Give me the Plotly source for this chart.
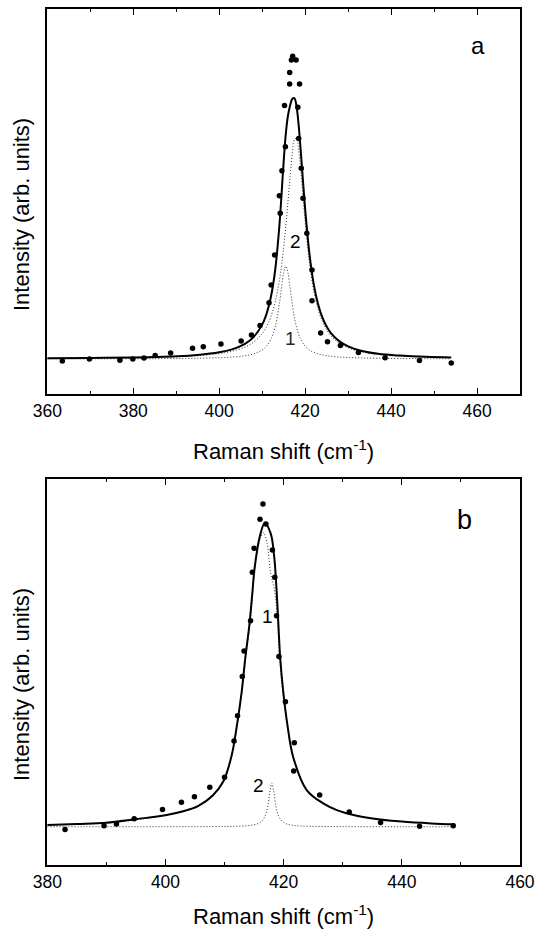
import plotly.graph_objects as go

# ---------------- Panel a ----------------
a_fit_x = [360, 370, 380, 385, 390, 395, 400, 403, 406, 408, 410, 411, 412, 413, 414, 415, 415.5, 416,
           416.5, 417, 417.5, 418, 418.5, 419, 420, 421, 422, 423, 424, 425, 426, 428, 430, 433, 437,
           442, 448, 454]
a_fit_total = [0.0024, 0.0035, 0.0056, 0.0075, 0.0104, 0.0156, 0.0256, 0.0371, 0.0583, 0.0845, 0.133,
               0.174, 0.238, 0.341, 0.515, 0.764, 0.873, 0.943, 0.983, 1.008, 1.011, 0.979, 0.905,
               0.802, 0.582, 0.408, 0.290, 0.213, 0.161, 0.126, 0.100, 0.068, 0.049, 0.032, 0.020,
               0.013, 0.008, 0.006]
a_fit_1 = [0.0004, 0.0006, 0.0009, 0.0013, 0.0018, 0.0028, 0.0048, 0.0073, 0.0125, 0.0196, 0.0348,
           0.0497, 0.0753, 0.1229, 0.2125, 0.334, 0.36, 0.334, 0.275, 0.2125, 0.161, 0.1229, 0.0952,
           0.0753, 0.0497, 0.0348, 0.0256, 0.0196, 0.0155, 0.0125, 0.0103, 0.0073, 0.0055, 0.0038,
           0.0025, 0.0017, 0.0011, 0.0008]
a_fit_2 = [0.0020, 0.0029, 0.0047, 0.0062, 0.0086, 0.0128, 0.0208, 0.0298, 0.0458, 0.0649, 0.0982,
           0.1246, 0.1626, 0.2183, 0.3026, 0.43, 0.5134, 0.6086, 0.7075, 0.795, 0.850, 0.8556, 0.8094,
           0.7265, 0.5318, 0.3729, 0.2646, 0.1933, 0.1457, 0.1130, 0.0898, 0.0603, 0.0430, 0.0282,
           0.0179, 0.0114, 0.0073, 0.0051]
a_data_x = [363.5, 369.8, 376.9, 379.9, 382.5, 385.1, 388.7, 393.8, 396.3, 400.4, 405.1, 407.5, 409.5,
            411.6, 412.1, 412.9, 414.2, 414.0, 414.6, 415.4, 415.2, 416.4, 416.4, 416.8, 417.1, 417.9,
            418.7, 418.3, 418.5, 419.1, 419.5, 420.4, 421.6, 421.6, 423.6, 425.2, 428.2, 432.4, 438.6,
            446.6, 454.0]
a_data_y = [-0.008, 0.0, -0.005, 0.0, 0.004, 0.013, 0.023, 0.041, 0.047, 0.058, 0.070, 0.093, 0.130,
            0.218, 0.287, 0.403, 0.565, 0.633, 0.730, 0.823, 0.983, 1.066, 1.111, 1.159, 1.174, 1.159,
            1.066, 0.976, 0.855, 0.739, 0.623, 0.487, 0.345, 0.226, 0.101, 0.067, 0.052, 0.025, 0.005,
            -0.006, -0.016]

# ---------------- Panel b ----------------
b_fit_x = [380, 385, 390, 395, 400, 403, 405.5, 408, 409.8, 411.2, 412.1, 412.9, 413.5, 414.2, 414.7,
           415.1, 416.0, 416.8, 417.8, 418.4, 418.8, 419.1, 419.4, 419.9, 420.6, 421.6, 423.9, 426.7,
           429, 432, 436, 440, 445, 449]
b_fit_total = [0.006, 0.009, 0.013, 0.025, 0.038, 0.051, 0.068, 0.103, 0.150, 0.235, 0.335, 0.445,
               0.555, 0.665, 0.770, 0.855, 0.960, 1.0, 0.967, 0.890, 0.780, 0.671, 0.561, 0.451,
               0.341, 0.231, 0.121, 0.077, 0.055, 0.038, 0.025, 0.017, 0.011, 0.008]
b_c1_x = [380, 390, 400, 405.5, 408, 409.8, 411.2, 412.1, 412.9, 413.5, 414.2, 414.7, 415.1, 416.0,
          416.6, 417.2, 417.8, 418.4, 418.8, 419.1, 419.4, 419.9, 420.6, 421.6, 423.9, 426.7, 432, 440,
          449]
b_c1_y = [0.006, 0.013, 0.038, 0.067, 0.101, 0.147, 0.231, 0.330, 0.438, 0.545, 0.650, 0.752, 0.848,
          0.946, 0.969, 0.933, 0.836, 0.786, 0.723, 0.634, 0.535, 0.436, 0.333, 0.227, 0.119, 0.076,
          0.038, 0.017, 0.008]
b_c2_x = [380, 400, 410, 413, 415, 416, 416.8, 417.3, 417.7, 418.0, 418.3, 418.7, 419.2, 420, 421, 423,
          430, 440, 449]
b_c2_y = [0.0, 0.0003, 0.0009, 0.0024, 0.0065, 0.0138, 0.033, 0.067, 0.119, 0.144, 0.119, 0.067, 0.033,
          0.0138, 0.0065, 0.0024, 0.0005, 0.0001, 0.0]
b_data_x = [383.0, 389.6, 391.7, 394.7, 399.5, 402.7, 404.9, 407.5, 410.0, 411.6, 412.2, 413.0, 413.3,
            414.4, 414.7, 415.0, 416.0, 416.5, 417.0, 418.1, 418.5, 418.8, 419.2, 420.3, 421.8, 421.7,
            426.1, 431.1, 436.4, 443.0, 448.7]
b_data_y = [-0.009, 0.003, 0.009, 0.026, 0.057, 0.081, 0.099, 0.130, 0.163, 0.283, 0.366, 0.495, 0.579,
            0.679, 0.839, 0.918, 1.013, 1.064, 0.998, 0.912, 0.822, 0.695, 0.561, 0.412, 0.277, 0.184,
            0.105, 0.049, 0.014, 0.002, 0.003]

FONT = "Liberation Sans, Arial, sans-serif"
dotted = dict(color="#303030", width=1, dash="1px,2px")
solid = dict(color="black", width=2)
marker = dict(color="black", size=5.5)

fig = go.Figure()
# panel a
fig.add_trace(go.Scatter(x=a_fit_x, y=a_fit_1, mode="lines", line=dotted, line_shape="spline",
                         xaxis="x", yaxis="y"))
fig.add_trace(go.Scatter(x=a_fit_x, y=a_fit_2, mode="lines", line=dotted, line_shape="spline",
                         xaxis="x", yaxis="y"))
fig.add_trace(go.Scatter(x=a_fit_x, y=a_fit_total, mode="lines", line=solid, line_shape="spline",
                         xaxis="x", yaxis="y"))
fig.add_trace(go.Scatter(x=a_data_x, y=a_data_y, mode="markers", marker=marker, xaxis="x", yaxis="y"))
# panel b
fig.add_trace(go.Scatter(x=b_c2_x, y=b_c2_y, mode="lines", line=dotted, line_shape="spline",
                         xaxis="x2", yaxis="y2"))
fig.add_trace(go.Scatter(x=b_c1_x, y=b_c1_y, mode="lines", line=dotted, line_shape="spline",
                         xaxis="x2", yaxis="y2"))
fig.add_trace(go.Scatter(x=b_fit_x, y=b_fit_total, mode="lines", line=solid, line_shape="spline",
                         xaxis="x2", yaxis="y2"))
fig.add_trace(go.Scatter(x=b_data_x, y=b_data_y, mode="markers", marker=marker, xaxis="x2", yaxis="y2"))

xdom = [47.3 / 535, 520 / 535]


def xax(rng, anchor):
    return dict(domain=xdom, range=rng, anchor=anchor, tick0=rng[0], dtick=20, ticks="inside",
                ticklen=6, tickwidth=1.2, tickcolor="black",
                minor=dict(dtick=10, ticks="inside", ticklen=3.5, tickwidth=1.2, tickcolor="black"),
                showline=True, linecolor="black", linewidth=1.5, mirror="allticks",
                showgrid=False, zeroline=False, ticklabeloverflow="allow", automargin=False,
                tickfont=dict(family=FONT, size=17.5, color="black"))


def yax(dom, rng, anchor):
    return dict(domain=dom, range=rng, anchor=anchor, showline=True, linecolor="black", linewidth=1.5,
                mirror=True, showticklabels=False, ticks="", showgrid=False, zeroline=False,
                automargin=False)


fig.update_layout(
    width=535, height=930, autosize=False,
    margin=dict(l=0, r=0, t=0, b=0, autoexpand=False),
    paper_bgcolor="white", plot_bgcolor="white",
    showlegend=False,
    font=dict(family=FONT, color="black"),
    xaxis=xax([360, 470], "y"),
    yaxis=yax([1 - 394 / 930, 1 - 9 / 930], [-0.136, 1.357], "x"),
    xaxis2=xax([380, 460], "y2"),
    yaxis2=yax([1 - 865 / 930, 1 - 479 / 930], [-0.126, 1.146], "x2"),
)

ann = []
xt = "Raman shift (cm<sup>-1</sup>)"
yt = "Intensity (arb. units)"
for ypx in (450, 915):
    ann.append(dict(text=xt, xref="paper", yref="paper", x=283.6 / 535, y=1 - ypx / 930,
                    xanchor="center", yanchor="middle", showarrow=False,
                    font=dict(family=FONT, size=22, color="black")))
for ypx in (215, 685):
    ann.append(dict(text=yt, xref="paper", yref="paper", x=21 / 535, y=1 - ypx / 930, textangle=-90,
                    xanchor="center", yanchor="middle", showarrow=False,
                    font=dict(family=FONT, size=22, color="black")))
# panel letters and peak labels
ann.append(dict(text="a", xref="x", yref="y", x=460.2, y=1.217, showarrow=False,
                font=dict(family=FONT, size=24, color="black")))
ann.append(dict(text="b", xref="x2", yref="y2", x=450.6, y=1.011, showarrow=False,
                font=dict(family=FONT, size=27, color="black")))
ann.append(dict(text="2", xref="x", yref="y", x=417.7, y=0.455, showarrow=False,
                font=dict(family=FONT, size=19, color="black")))
ann.append(dict(text="1", xref="x", yref="y", x=416.5, y=0.08, showarrow=False,
                font=dict(family=FONT, size=19, color="#1e2e1e")))
ann.append(dict(text="1", xref="x2", yref="y2", x=417.2, y=0.692, showarrow=False,
                font=dict(family=FONT, size=19, color="black")))
ann.append(dict(text="2", xref="x2", yref="y2", x=415.8, y=0.137, showarrow=False,
                font=dict(family=FONT, size=19, color="black")))
fig.update_layout(annotations=ann)

fig.write_html("out.html", config={"displayModeBar": False},
               post_script="document.body.style.margin='0';")
